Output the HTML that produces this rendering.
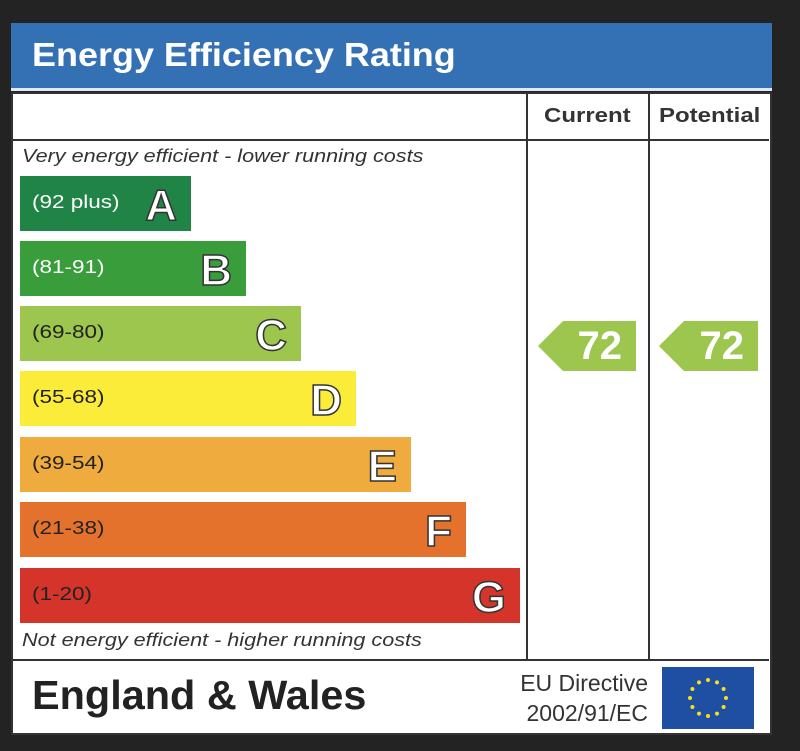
<!DOCTYPE html>
<html><head><style>
body{margin:0;width:800px;height:751px;background:#232323;position:relative;overflow:hidden;font-family:"Liberation Sans",Arial,sans-serif}
.a{position:absolute}
.sx{transform-origin:0 0;white-space:nowrap}
.box{left:11px;top:92px;width:757px;height:639px;background:#fff;border:2px solid #333}
.vl{background:#333;width:2px}
.hl{background:#333;height:2px}
.bar{position:absolute;left:20px;height:55px}
.bar .r{position:absolute;left:12px;top:16px;font-size:18px;color:#222;transform:scaleX(1.25);transform-origin:0 0}
.bar .l{position:absolute;right:14px;top:5px;font-size:44px;font-weight:bold;color:#fff;-webkit-text-stroke:1.5px #333}
.it{font-style:italic;font-size:18px;color:#333;transform:scaleX(1.2)}
.arr{position:absolute;height:50px;background:#9cc64e;clip-path:polygon(0 50%,25px 0,100% 0,100% 100%,25px 100%)}
.arr span{position:absolute;right:14px;top:3px;color:#fff;font-size:40px;font-weight:bold}
</style></head><body>
<div class="a" style="left:11px;top:23px;width:761px;height:65px;background:#3470b4;border-bottom:3px solid #dfe8f3"></div>
<div class="a sx" style="left:32px;top:36px;color:#fff;font-size:33px;font-weight:bold;transform:scaleX(1.09)">Energy Efficiency Rating</div>
<div class="a box"></div>
<div class="a vl" style="left:526px;top:93px;height:567px"></div>
<div class="a vl" style="left:648px;top:93px;height:567px"></div>
<div class="a hl" style="left:12px;top:139px;width:757px"></div>
<div class="a hl" style="left:12px;top:659px;width:757px"></div>
<div class="a sx" style="left:544px;top:105px;font-size:20px;font-weight:bold;color:#333;transform:scaleX(1.2)">Current</div>
<div class="a sx" style="left:659px;top:105px;font-size:20px;font-weight:bold;color:#333;transform:scaleX(1.2)">Potential</div>
<div class="a it sx" style="left:22px;top:146px">Very energy efficient - lower running costs</div>
<div class="a it sx" style="left:22px;top:630px">Not energy efficient - higher running costs</div>
<div class="bar" style="top:176px;width:171px;background:#1f8446"><span class="r" style="color:#fff">(92 plus)</span><span class="l">A</span></div>
<div class="bar" style="top:241px;width:226px;background:#3a9d3c"><span class="r" style="color:#fff">(81-91)</span><span class="l">B</span></div>
<div class="bar" style="top:306px;width:281px;background:#9cc64e"><span class="r">(69-80)</span><span class="l">C</span></div>
<div class="bar" style="top:371px;width:336px;background:#fbec3a"><span class="r">(55-68)</span><span class="l">D</span></div>
<div class="bar" style="top:437px;width:391px;background:#efab3e"><span class="r">(39-54)</span><span class="l">E</span></div>
<div class="bar" style="top:502px;width:446px;background:#e4722d"><span class="r">(21-38)</span><span class="l">F</span></div>
<div class="bar" style="top:568px;width:500px;background:#d5342b"><span class="r">(1-20)</span><span class="l">G</span></div>
<div class="arr" style="left:538px;top:321px;width:98px"><span>72</span></div>
<div class="arr" style="left:659px;top:321px;width:99px"><span>72</span></div>
<div class="a sx" style="left:32px;top:672px;font-size:41px;font-weight:bold;color:#222;transform:scaleX(1.01)">England &amp; Wales</div>
<div class="a" style="left:502px;top:668px;font-size:23px;color:#333;text-align:right;line-height:30px;width:146px">EU Directive<br>2002/91/EC</div>
<svg class="a" style="left:662px;top:667px" width="92" height="62"><rect width="92" height="62" fill="#1f4fa3"/>
<g fill="#f5e020"><circle cx="46" cy="13" r="2"/><circle cx="55" cy="15.4" r="2"/><circle cx="61.6" cy="22" r="2"/><circle cx="64" cy="31" r="2"/><circle cx="61.6" cy="40" r="2"/><circle cx="55" cy="46.6" r="2"/><circle cx="46" cy="49" r="2"/><circle cx="37" cy="46.6" r="2"/><circle cx="30.4" cy="40" r="2"/><circle cx="28" cy="31" r="2"/><circle cx="30.4" cy="22" r="2"/><circle cx="37" cy="15.4" r="2"/></g></svg>
</body></html>
